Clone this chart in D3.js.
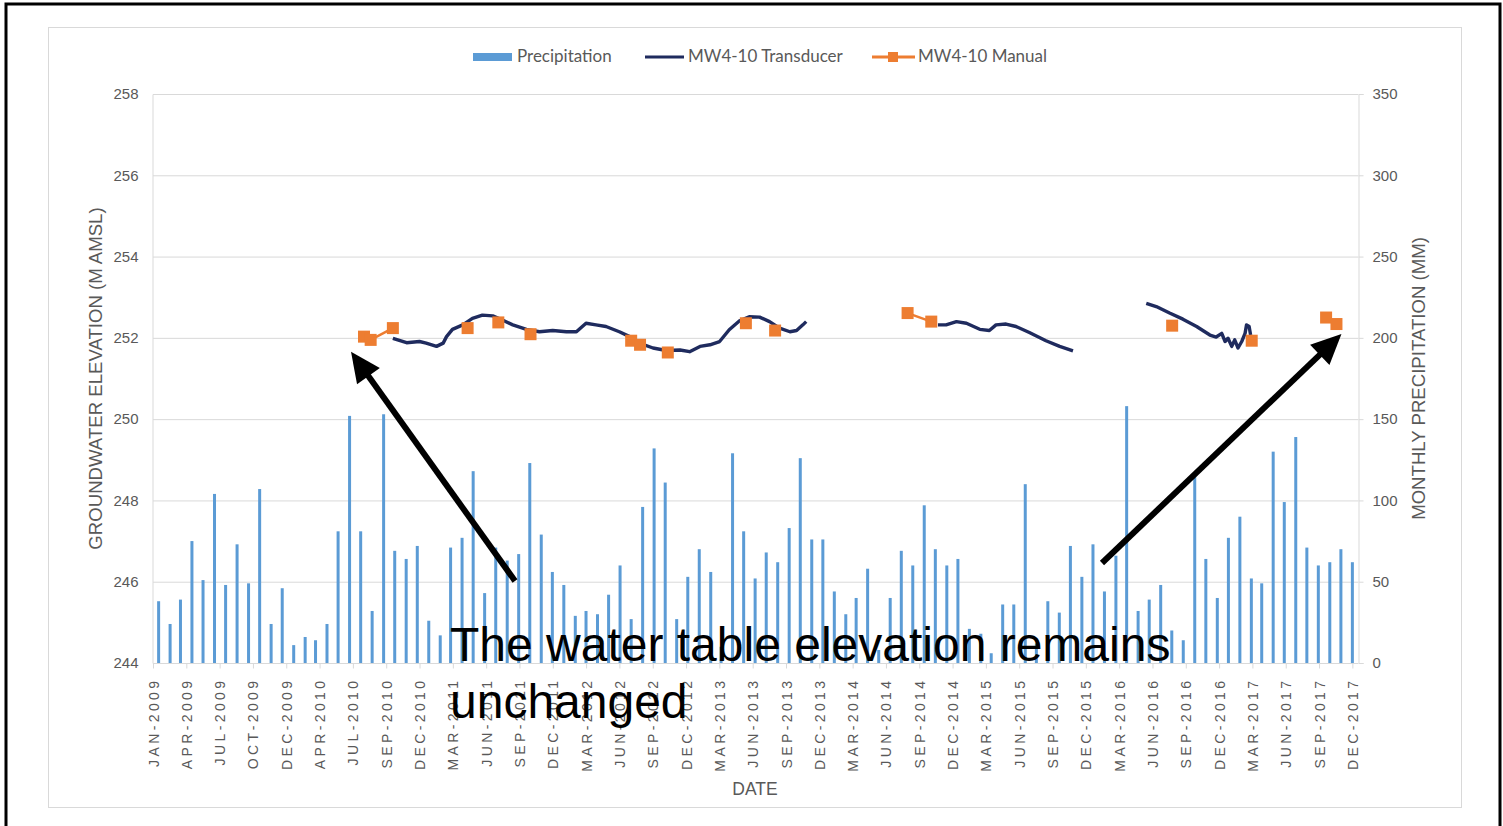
<!DOCTYPE html>
<html lang="en">
<meta charset="utf-8">
<style>
body { margin: 0; background: #fff; }
svg text { font-family: "Liberation Sans", Arial, sans-serif; fill: #595959; }
.legend text { font-family: Lato, sans-serif; font-size: 17px; }
</style>
<body>
<script src="https://d3js.org/d3.v7.min.js"></script>
<div id="chart"></div>
<script>
// monthly precipitation (mm), one bar per month from Jan 2009
var firstMonth = "2009-01-01";
var precip = [38, 24, 39, 75, 51, 104, 48, 73, 49, 107, 24, 46,
  11, 16, 14, 24, 81, 152, 81, 32, 153, 69, 64, 72,
  26, 17, 71, 77, 118, 43, 71, 63, 67, 123, 79, 56,
  48, 29, 32, 30, 42, 60, 27, 96, 132, 111, 27, 53,
  70, 56, 10, 129, 81, 52, 68, 62, 83, 126, 76, 76,
  44, 30, 40, 58, 8, 40, 69, 60, 97, 70, 60, 64,
  21, 18, 6, 36, 36, 110, 12, 38, 31, 72, 53, 73,
  44, 66, 158, 32, 39, 48, 20, 14, 116, 64, 40, 77,
  90, 52, 49, 130, 99, 139, 71, 60, 62, 70, 62];

var tickLabels = ["JAN-2009","APR-2009","JUL-2009","OCT-2009","DEC-2009","APR-2010","JUL-2010",
  "SEP-2010","DEC-2010","MAR-2011","JUN-2011","SEP-2011","DEC-2011","MAR-2012","JUN-2012",
  "SEP-2012","DEC-2012","MAR-2013","JUN-2013","SEP-2013","DEC-2013","MAR-2014","JUN-2014",
  "SEP-2014","DEC-2014","MAR-2015","JUN-2015","SEP-2015","DEC-2015","MAR-2016","JUN-2016",
  "SEP-2016","DEC-2016","MAR-2017","JUN-2017","SEP-2017","DEC-2017"];

var elevTicks = [244, 246, 248, 250, 252, 254, 256, 258];
var precipTicks = [0, 50, 100, 150, 200, 250, 300, 350];

// transducer record (null = no data)
var transducerDates = ["2010-09-26","2010-11-02","2010-12-07","2010-12-25","2011-01-22","2011-02-09",
  "2011-02-18","2011-03-06","2011-04-03","2011-04-29","2011-05-26","2011-06-23","2011-07-19",
  "2011-08-16","2011-09-22","2011-10-27","2011-12-02","2012-01-08","2012-02-04","2012-03-01",
  "2012-03-28","2012-04-24","2012-05-30","2012-06-27","2012-07-23","2012-08-29","2012-10-04",
  "2012-11-10","2012-12-06","2013-01-03","2013-01-30","2013-02-25","2013-03-23","2013-04-20",
  "2013-05-16","2013-06-13","2013-07-10","2013-08-06","2013-09-03","2013-09-21","2013-10-08",
  "2013-10-17", null,
  "2014-10-08","2014-10-30","2014-11-27","2014-12-24","2015-01-29","2015-02-24","2015-03-14",
  "2015-04-10","2015-05-07","2015-06-12","2015-07-27","2015-09-02","2015-10-08", null,
  "2016-04-23","2016-05-20","2016-06-25","2016-07-31","2016-09-06","2016-10-12","2016-10-29",
  "2016-11-13","2016-11-22","2016-11-30","2016-12-10","2016-12-18","2016-12-27","2017-01-06",
  "2017-01-15","2017-01-19","2017-01-26","2017-01-30"];
var transducerElev = [251.99, 251.88, 251.91, 251.87, 251.79, 251.87,
  252.03, 252.21, 252.32, 252.48, 252.56, 252.54, 252.44,
  252.32, 252.21, 252.15, 252.18, 252.15, 252.15, 252.36,
  252.32, 252.28, 252.15, 252.03, 251.87, 251.75, 251.69,
  251.70, 251.66, 251.79, 251.83, 251.91, 252.20, 252.42,
  252.52, 252.51, 252.40, 252.24, 252.15, 252.18, 252.32,
  252.40, null,
  252.32, 252.32, 252.40, 252.36, 252.21, 252.18, 252.32,
  252.34, 252.28, 252.13, 251.93, 251.79, 251.68, null,
  252.85, 252.77, 252.61, 252.46, 252.28, 252.07, 252.02,
  252.11, 251.91, 251.99, 251.79, 251.95, 251.75, 251.91,
  252.11, 252.32, 252.28, 252.07];

// manual measurements (null breaks the connecting line)
var manualDates = ["2010-07-10","2010-07-28","2010-09-26", null, "2011-04-16", null, "2011-07-08", null,
  "2011-10-03", null, "2012-07-01","2012-07-25", null, "2012-10-08", null, "2013-05-07", null,
  "2013-07-25", null, "2014-07-18","2014-09-20", null, "2016-07-02", null, "2017-02-02", null,
  "2017-08-22","2017-09-19"];
var manualElev = [252.03, 251.95, 252.24, null, 252.24, null, 252.38, null,
  252.09, null, 251.93, 251.83, null, 251.64, null, 252.36, null,
  252.18, null, 252.61, 252.40, null, 252.30, null, 251.93, null,
  252.50, 252.34];

var width = 1503, height = 826;
var plotLeft = 153, plotRight = 1358, plotTop = 94, plotBottom = 663;
var parse = d3.timeParse("%Y-%m-%d");

var svg = d3.select("#chart").append("svg")
    .attr("width", width)
    .attr("height", height);

// outer frame and chart area
svg.append("rect")
    .attr("x", 6).attr("y", 4).attr("width", 1494).attr("height", 840)
    .attr("fill", "none").attr("stroke", "#000").attr("stroke-width", 3);
svg.append("rect")
    .attr("x", 48.5).attr("y", 27.5).attr("width", 1413).attr("height", 780)
    .attr("fill", "none").attr("stroke", "#d9d9d9");

var months = precip.map(function(d, i) { return d3.timeMonth.offset(parse(firstMonth), i); });
var half = (plotRight - plotLeft) / precip.length / 2;

var x = d3.scaleTime()
    .domain([months[0], months[months.length - 1]])
    .range([plotLeft + half, plotRight - half]);
var xLab = d3.scalePoint().domain(tickLabels).range([plotLeft, plotRight - half]);
var yElev = d3.scaleLinear().domain([244, 258]).range([plotBottom, plotTop]);
var yPrec = d3.scaleLinear().domain([0, 350]).range([plotBottom, plotTop]);

// gridlines
svg.append("g").selectAll("line")
    .data(elevTicks)
  .enter().append("line")
    .attr("x1", plotLeft).attr("x2", plotRight)
    .attr("y1", function(d) { return yElev(d) + 0.5; })
    .attr("y2", function(d) { return yElev(d) + 0.5; })
    .attr("stroke", "#d9d9d9");

// left axis
var gl = svg.append("g").attr("transform", "translate(" + (plotLeft - 0.5) + ",0)")
    .call(d3.axisLeft(yElev).tickValues(elevTicks).tickSize(0).tickPadding(14));
gl.select(".domain").attr("stroke", "#d9d9d9");
gl.selectAll("text").style("font-size", "15px")
    .style("font-family", "Liberation Sans, Arial, sans-serif");

// right axis
var gr = svg.append("g").attr("transform", "translate(" + (plotRight + 0.5) + ",0)")
    .call(d3.axisRight(yPrec).tickValues(precipTicks).tickSize(5).tickPadding(9));
gr.select(".domain").attr("stroke", "#d9d9d9");
gr.selectAll("line").attr("stroke", "#d9d9d9");
gr.selectAll("text").style("font-size", "15px")
    .style("font-family", "Liberation Sans, Arial, sans-serif");

// bottom axis
var gb = svg.append("g").attr("transform", "translate(0," + (plotBottom + 0.5) + ")")
    .call(d3.axisBottom(xLab).tickSize(5).tickPadding(6));
gb.select(".domain").attr("stroke", "#d9d9d9").attr("d", "M" + plotLeft + ",0H" + plotRight);
gb.selectAll("line").attr("stroke", "#d9d9d9");
gb.selectAll("text")
    .style("font-size", "14px").style("letter-spacing", "3.4px")
    .style("font-family", "Liberation Sans, Arial, sans-serif")
    .attr("text-anchor", "end")
    .attr("transform", "rotate(-90)")
    .attr("x", -14).attr("y", 0).attr("dy", "0.36em");

// axis titles
svg.append("text")
    .attr("transform", "translate(102," + (plotTop + plotBottom) / 2 + ") rotate(-90)")
    .attr("text-anchor", "middle")
    .style("font-size", "18.6px")
    .text("GROUNDWATER ELEVATION (M AMSL)");
svg.append("text")
    .attr("transform", "translate(1425," + (plotTop + plotBottom) / 2 + ") rotate(-90)")
    .attr("text-anchor", "middle")
    .style("font-size", "18.6px")
    .text("MONTHLY PRECIPITATION (MM)");
svg.append("text")
    .attr("x", 755).attr("y", 795)
    .attr("text-anchor", "middle")
    .style("font-size", "17.5px")
    .text("DATE");

// precipitation bars
svg.append("g").selectAll("rect")
    .data(precip)
  .enter().append("rect")
    .attr("x", function(d, i) { return x(months[i]) - 1.5; })
    .attr("width", 3)
    .attr("y", function(d) { return yPrec(d); })
    .attr("height", function(d) { return yPrec(0) - yPrec(d); })
    .attr("fill", "#5b9bd5");

// transducer line
var tData = transducerDates.map(function(d, i) { return {date: d ? parse(d) : null, v: transducerElev[i]}; });
svg.append("path")
    .datum(tData)
    .attr("fill", "none")
    .attr("stroke", "#1f2b5e")
    .attr("stroke-width", 3.4)
    .attr("stroke-linejoin", "round")
    .attr("d", d3.line()
      .defined(function(d) { return d.v != null; })
      .x(function(d) { return x(d.date); })
      .y(function(d) { return yElev(d.v); }));

// manual readings
var mData = manualDates.map(function(d, i) { return {date: d ? parse(d) : null, v: manualElev[i]}; });
svg.append("path")
    .datum(mData)
    .attr("fill", "none")
    .attr("stroke", "#ed7d31")
    .attr("stroke-width", 2.5)
    .attr("d", d3.line()
      .defined(function(d) { return d.v != null; })
      .x(function(d) { return x(d.date); })
      .y(function(d) { return yElev(d.v); }));
svg.append("g").selectAll("rect")
    .data(mData.filter(function(d) { return d.v != null; }))
  .enter().append("rect")
    .attr("x", function(d) { return x(d.date) - 6; })
    .attr("y", function(d) { return yElev(d.v) - 6; })
    .attr("width", 12).attr("height", 12)
    .attr("fill", "#ed7d31");

// legend
var legend = svg.append("g").attr("class", "legend");
legend.append("rect").attr("x", 473).attr("y", 53).attr("width", 39).attr("height", 8).attr("fill", "#5b9bd5");
legend.append("text").attr("x", 517).attr("y", 62).text("Precipitation");
legend.append("line").attr("x1", 645).attr("x2", 684).attr("y1", 57).attr("y2", 57)
    .attr("stroke", "#1f2b5e").attr("stroke-width", 3);
legend.append("text").attr("x", 688).attr("y", 62).text("MW4-10 Transducer");
legend.append("line").attr("x1", 872).attr("x2", 915).attr("y1", 57).attr("y2", 57)
    .attr("stroke", "#ed7d31").attr("stroke-width", 3);
legend.append("rect").attr("x", 888).attr("y", 52).attr("width", 10).attr("height", 10).attr("fill", "#ed7d31");
legend.append("text").attr("x", 918).attr("y", 62).text("MW4-10 Manual");

// annotation
var note = svg.append("g");
note.append("text").attr("x", 450).attr("y", 661)
    .style("font-size", "48px").style("fill", "#000")
    .text("The water table elevation remains");
note.append("text").attr("x", 450).attr("y", 718)
    .style("font-size", "48px").style("fill", "#000")
    .text("unchanged");

function arrow(x1, y1, x2, y2) {
  var a = Math.atan2(y2 - y1, x2 - x1), len = 30, w = 14;
  var bx = x2 - len * Math.cos(a), by = y2 - len * Math.sin(a);
  note.append("line")
      .attr("x1", x1).attr("y1", y1)
      .attr("x2", x2 - 20 * Math.cos(a)).attr("y2", y2 - 20 * Math.sin(a))
      .attr("stroke", "#000").attr("stroke-width", 6);
  note.append("path")
      .attr("d", "M" + x2 + "," + y2 +
        "L" + (bx + w * Math.sin(a)) + "," + (by - w * Math.cos(a)) +
        "L" + (bx - w * Math.sin(a)) + "," + (by + w * Math.cos(a)) + "Z")
      .attr("fill", "#000");
}
var m0 = mData[0], mN = mData[mData.length - 1];
arrow(515, 581, x(m0.date) - 13, yElev(m0.v) + 15);
arrow(1102, 563, x(mN.date) + 5, yElev(mN.v) + 10);
</script>
